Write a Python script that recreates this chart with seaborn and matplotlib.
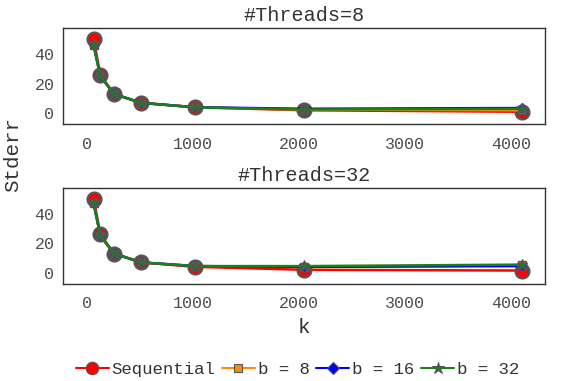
import numpy as np
import pandas as pd
import matplotlib
matplotlib.use('Agg')
import matplotlib.pyplot as plt
import seaborn as sns
from matplotlib.lines import Line2D

# ---- data ----
k_values = [64, 128, 256, 512, 1024, 2048, 4096]
series_names = ['Sequential', 'b = 8', 'b = 16', 'b = 32']
threads = [8, 32]

stderr_t8 = {
    'Sequential': [50, 26, 13, 7, 4, 2, 1],
    'b = 8':      [46, 25, 13, 7, 4, 2.5, 2],
    'b = 16':     [46, 25, 13, 7, 4, 3, 3.5],
    'b = 32':     [46, 25, 13, 7, 4, 2.5, 3],
}
stderr_t32 = {
    'Sequential': [50, 26, 13, 7, 4, 2, 1.5],
    'b = 8':      [47, 25, 13, 7, 4.5, 4, 5],
    'b = 16':     [47, 25, 13, 7, 4.5, 4, 4.5],
    'b = 32':     [47, 25, 13, 7, 4.5, 4.5, 5.5],
}

colors = {'Sequential': '#ff0000', 'b = 8': '#ff8c00', 'b = 16': '#0000ff', 'b = 32': '#1a801a'}
markers = {'Sequential': 'o', 'b = 8': 's', 'b = 16': 'D', 'b = 32': '*'}
msize = {'Sequential': 10, 'b = 8': 6, 'b = 16': 5, 'b = 32': 8}

rows = []
for t, d in zip(threads, [stderr_t8, stderr_t32]):
    for name in series_names:
        for k, v in zip(k_values, d[name]):
            rows.append({'threads': t, 'series': name, 'k': k, 'stderr': v})
df = pd.DataFrame(rows)

sns.set_style('white')
plt.rcParams['font.family'] = ['Liberation Mono', 'DejaVu Sans Mono']
txt = '#333333'

fig, axes = plt.subplots(2, 1, figsize=(5.61, 3.81), dpi=100)
fig.subplots_adjust(left=0.112, right=0.972, top=0.926, bottom=0.255, hspace=0.66)

for ax, t in zip(axes, threads):
    sub = df[df.threads == t]
    for name in series_names:
        s = sub[sub.series == name]
        sns.lineplot(data=s, x='k', y='stderr', ax=ax, color=colors[name],
                     marker=markers[name], markersize=msize[name],
                     markeredgecolor='#555555', markeredgewidth=1.6 if name == 'Sequential' else 1.0,
                     linewidth=1.8, legend=False)
    ax.set_xlim(-226, 4320)
    ax.set_ylim(-7.5, 57.5)
    ax.set_yticks([0, 20, 40])
    ax.set_xticks([0, 1000, 2000, 3000, 4000])
    ax.set_title(f'#Threads={t}', fontsize=14.5, color=txt, pad=5)
    ax.tick_params(axis='both', labelsize=12, colors='#4d4d4d', length=0)
    ax.tick_params(axis='x', pad=9)
    ax.tick_params(axis='y', pad=6)
    ax.set_ylabel('')
    ax.set_xlabel('')
    for sp in ax.spines.values():
        sp.set_color('#333333')
        sp.set_linewidth(1.0)

axes[1].set_xlabel('k', fontsize=15, color=txt, labelpad=5)
fig.text(0.006, 0.595, 'Stderr', rotation=90, fontsize=15, color=txt, va='center', ha='left')

handles = [Line2D([0], [0], color=colors[n], marker=markers[n],
                  markersize={'Sequential': 9, 'b = 8': 6, 'b = 16': 6, 'b = 32': 9}[n],
                  markeredgecolor='#555555', markeredgewidth=0.8, linewidth=1.5)
           for n in series_names]
fig.legend(handles, series_names, loc='lower center', ncol=4, frameon=False,
           fontsize=12.5, handlelength=1.9, handletextpad=0.15, columnspacing=0.4,
           bbox_to_anchor=(0.53, -0.03))
for text in fig.legends[0].get_texts():
    text.set_color(txt)

fig.savefig('out.png', dpi=100)
